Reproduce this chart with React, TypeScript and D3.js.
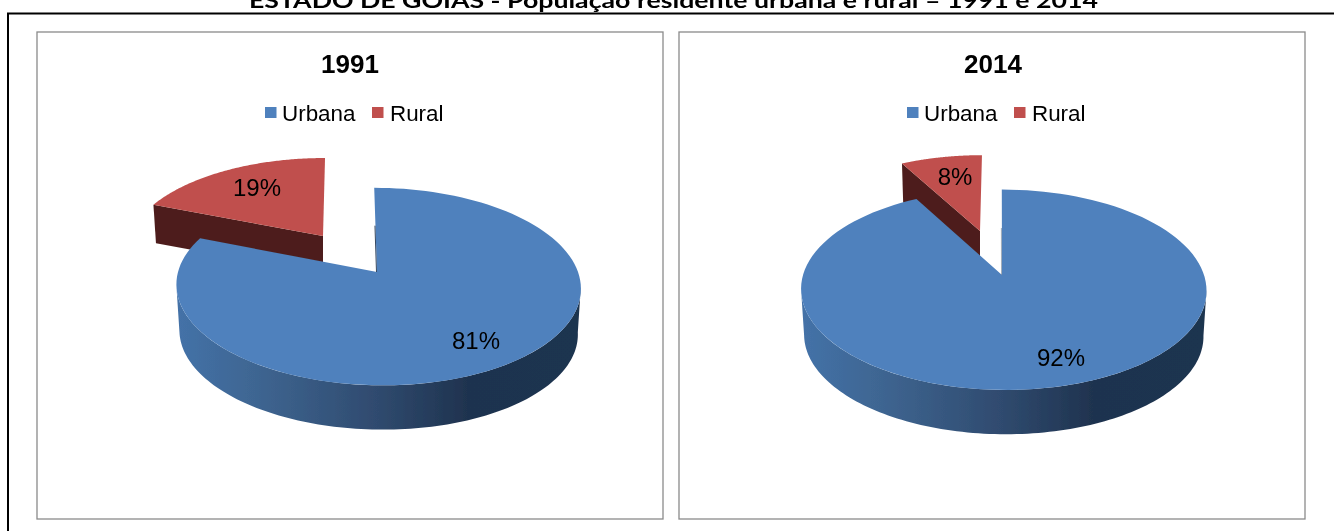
import React from "react";
import * as d3 from "d3";

const sheetTitle = "ESTADO DE GOIÁS - População residente urbana e rural – 1991 e 2014";
const categories = ["Urbana", "Rural"];
const years = ["1991", "2014"];
const values1991 = [81, 19];
const values2014 = [92, 8];
const seriesByPanel = [values1991, values2014];

const BLUE = "#4f81bd";
const RED = "#c0504d";
const DARK_RED = "#4e1f1c";
const colors = [BLUE, RED];

const K = 0.1475; // perspective of the tilted disc
const DEPTH = 46;

type Disc = { cx: number; cy: number; a: number; b: number; shear: number; apex: [number, number] };

const panels = [
  {
    x: 37, y: 32, w: 626, h: 487,
    titleX: 350, legendX: 265,
    main: { cx: 378, cy: 272, a: 96.6, b: 200, shear: -0.045, apex: [377, 272] } as Disc,
    wedge: { cx: 323, cy: 236, a: 89.5, b: 193.2, shear: 0.026, apex: [323, 236] } as Disc,
    labels: [[476, 349], [257, 196]],
  },
  {
    x: 679, y: 32, w: 626, h: 487,
    titleX: 993, legendX: 907,
    main: { cx: 1003.5, cy: 275, a: 98, b: 200.5, shear: -0.02, apex: [1002, 275] } as Disc,
    wedge: { cx: 980, cy: 231, a: 87, b: 187, shear: 0.026, apex: [980, 231] } as Disc,
    labels: [[1061, 366], [955, 185]],
  },
];

// Project a polar angle on the disc (clockwise from 12 o'clock) to the screen.
function project(d: Disc, theta: number, r = 1, depth = 0): [number, number] {
  const u = r * Math.sin(theta);
  const v = r * Math.cos(theta);
  const w = 1 + K * v;
  const s = depth > 0 ? 0.985 : 1;
  const up = (s * d.a * v) / w;
  return [d.cx + (s * d.b * u) / w + d.shear * up, d.cy - up + depth];
}

function arcPoints(d: Disc, a0: number, a1: number, depth = 0) {
  return d3.range(0, 121).map((i) => project(d, a0 + ((a1 - a0) * i) / 120, 1, depth));
}

const line = d3.line();

function slicePath(d: Disc, a0: number, a1: number) {
  return line([d.apex, ...arcPoints(d, a0, a1), d.apex]) + "Z";
}

function Panel({ index }: { index: number }) {
  const p = panels[index];
  const arcs = d3.pie<number>().sort(null)(seriesByPanel[index]);
  const urb = arcs[0];
  const rur = arcs[1];
  const silL = Math.PI * 2 - Math.acos(-K);
  const silR = Math.acos(-K);
  const sidePath =
    line([...arcPoints(p.main, silR, silL), ...arcPoints(p.main, silR, silL, DEPTH).reverse()]) + "Z";
  const wedgeDepth = 38;
  const wedgeEdge = line([
    project(p.wedge, rur.startAngle),
    p.wedge.apex,
    [p.wedge.apex[0], p.wedge.apex[1] + wedgeDepth],
    project(p.wedge, rur.startAngle, 1, wedgeDepth),
  ]) + "Z";
  const gradId = `side-${index}`;
  const legendItems = [
    { sq: 0, text: 17 },
    { sq: 107, text: 125 },
  ];
  const top = project(p.main, 0);
  const cutFrom: [number, number] = [
    p.main.apex[0] + (top[0] - p.main.apex[0]) * 0.55,
    p.main.apex[1] + (top[1] - p.main.apex[1]) * 0.55,
  ];
  return (
    <g>
      <defs>
        <linearGradient id={gradId} gradientUnits="objectBoundingBox" x1="0" x2="1" y1="0" y2="0">
          <stop offset="0" stopColor="#4472a8" />
          <stop offset="0.2" stopColor="#3e6591" />
          <stop offset="0.5" stopColor="#2f4a6e" />
          <stop offset="0.72" stopColor="#1f334f" />
          <stop offset="1" stopColor="#1f3450" />
        </linearGradient>
      </defs>
      <rect x={p.x} y={p.y} width={p.w} height={p.h} fill="#fff" stroke="#8a8a8a" strokeWidth={1.3} />
      <text x={p.titleX} y={73} textAnchor="middle" fontSize={26} fontWeight="bold" fill="#000"
        fontFamily="'Liberation Sans', Arial, sans-serif">{years[index]}</text>
      {categories.map((c, i) => (
        <g key={c}>
          <rect x={p.legendX + legendItems[i].sq} y={107} width={11.5} height={11} fill={colors[i]} />
          <text x={p.legendX + legendItems[i].text} y={121} fontSize={22.4} fill="#000"
            fontFamily="'Liberation Sans', Arial, sans-serif">{c}</text>
        </g>
      ))}
      <path d={wedgeEdge} fill={DARK_RED} />
      <path d={slicePath(p.wedge, rur.startAngle, rur.endAngle)} fill={RED} />
      <path d={sidePath} fill={`url(#${gradId})`} />
      <path d={slicePath(p.main, urb.startAngle, urb.endAngle)} fill={BLUE} />
      <path d={line([cutFrom, p.main.apex]) as string} stroke="#1f3450" strokeWidth={1} fill="none"
        transform="translate(-0.5,0)" opacity={index === 0 ? 0.9 : 0.4} />
      {arcs.map((a, i) => (
        <text key={i} x={p.labels[i][0]} y={p.labels[i][1]} textAnchor="middle" fontSize={24} fill="#000"
          fontFamily="'Liberation Sans', Arial, sans-serif">{`${a.value}%`}</text>
      ))}
    </g>
  );
}

export default function App() {
  return (
    <svg width={1334} height={531} style={{ position: "absolute", left: 0, top: 0, background: "#fff", display: "block" }}>
      <defs>
        <filter id="soft" x="0" y="0" width="1" height="1" filterUnits="objectBoundingBox">
          <feGaussianBlur stdDeviation="0.4" />
        </filter>
      </defs>
      <g filter="url(#soft)">
        <rect x={0} y={0} width={1334} height={531} fill="#fff" />
        <text x={673.5} y={8} textAnchor="middle" fontSize={20.5} fontWeight="bold" fill="#000"
          fontFamily="Lato, sans-serif" textLength={849} lengthAdjust="spacingAndGlyphs">{sheetTitle}</text>
        <path d="M1334,13.5H8V531" fill="none" stroke="#000" strokeWidth={2} />
        {panels.map((_, i) => <Panel key={i} index={i} />)}
      </g>
    </svg>
  );
}
